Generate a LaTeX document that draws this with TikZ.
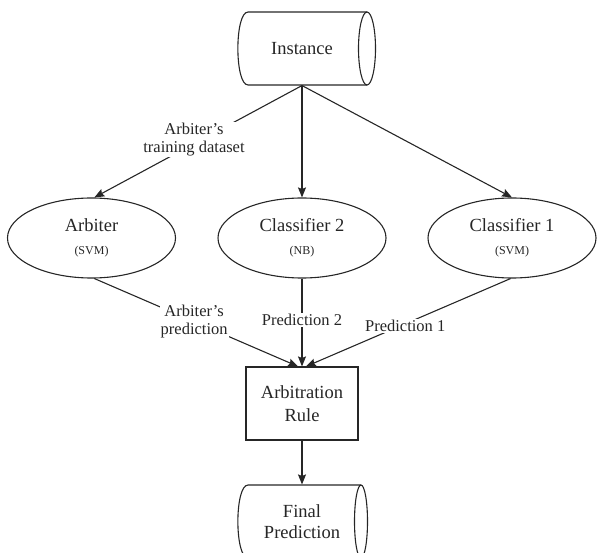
\documentclass[tikz,border=0pt]{standalone}
\usepackage{fontspec}
\setmainfont{Liberation Serif}
\usetikzlibrary{arrows.meta,shapes.geometric}
\begin{document}
\begin{tikzpicture}[x=1pt,y=-1pt,line width=1.1pt,
  every node/.style={text=black!85},
  conn/.style={draw=black!85,-{Stealth[length=10pt,width=8pt,inset=1.5pt]}},
  plain/.style={draw=black!85},
  ell/.style={ellipse,draw=black!85,minimum width=168pt,minimum height=80pt,inner sep=0pt,align=center,font=\fontsize{18.5}{22}\selectfont},
  box/.style={rectangle,draw=black!85,minimum width=112pt,minimum height=73pt,inner sep=0pt,align=center,font=\fontsize{18.5}{23}\selectfont},
  cyltext/.style={rectangle,minimum width=100pt,minimum height=73pt,inner sep=0pt,align=center,font=\fontsize{18.5}{21}\selectfont},
  lbl/.style={fill=white,inner sep=1pt,align=center,font=\fontsize{16.5}{18}\selectfont}]
\useasboundingbox (0,0) rectangle (597,553);
\clip (0,0) rectangle (597,553);
% Instance cylinder
\node[cyltext] (inst) at (302,48.5) {Instance};
\draw[plain] (367,12) -- (248,12) .. controls (234.5,12) and (234.5,85) .. (248,85) -- (367,85);
\draw[plain] (367,48.5) ellipse[x radius=8.5,y radius=36.5];
% ellipses
\node[ell] (arb) at (91.5,238) {Arbiter\\[1pt]{\fontsize{12}{12}\selectfont (SVM)}};
\node[ell] (c2) at (302,238) {Classifier 2\\[1pt]{\fontsize{12}{12}\selectfont (NB)}};
\node[ell] (c1) at (512,238) {Classifier 1\\[1pt]{\fontsize{12}{12}\selectfont (SVM)}};
% rule box
\node[box] (rule) at (302,403.5) {Arbitration\\Rule};
% final cylinder
\node[cyltext] (fin) at (302,521.5) {Final\\Prediction};
\draw[plain] (361,485) -- (248,485) .. controls (234.5,485) and (234.5,558) .. (248,558) -- (361,558);
\draw[plain] (361,521.5) ellipse[x radius=6.5,y radius=36.5];
% connectors
\draw[conn] (inst.south) -- node[lbl,pos=0.52,yshift=4pt]{Arbiter’s\\training dataset} (arb.86);
\draw[conn] (inst.south) -- (c2.north);
\draw[conn] (inst.south) -- (c1.north);
\draw[conn] (arb.-86) -- node[lbl,pos=0.49]{Arbiter’s\\prediction} ([xshift=-4pt]rule.north);
\draw[conn] (c2.south) -- node[lbl,pos=0.47]{Prediction 2} (rule.north);
\draw[conn] (c1.-92) -- node[lbl,pos=0.515,yshift=-2pt]{Prediction 1} ([xshift=4pt]rule.north);
\draw[conn] (rule.south) -- (fin.north);
\end{tikzpicture}
\end{document}
